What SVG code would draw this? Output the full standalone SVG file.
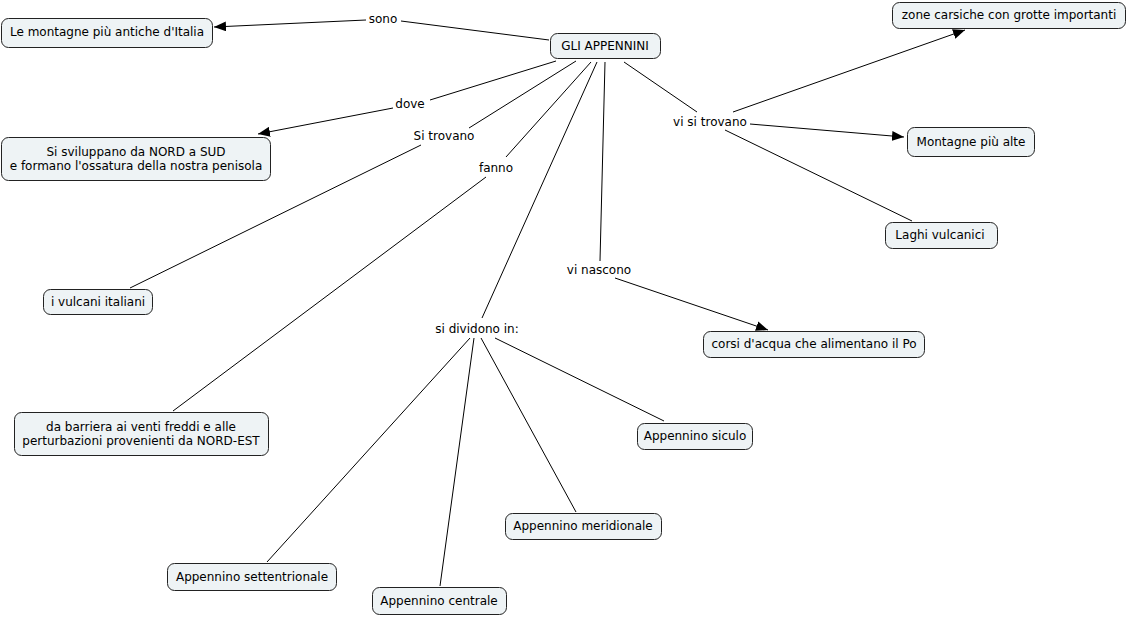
<svg xmlns="http://www.w3.org/2000/svg" width="1128" height="617" viewBox="0 0 1128 617">
<defs>
<marker id="arr" viewBox="0 0 12 10" refX="12" refY="5" markerWidth="12" markerHeight="10" markerUnits="userSpaceOnUse" orient="auto">
<path d="M0,0 L12,5 L0,10 Z" fill="#000"/>
</marker>
</defs>
<style>
.n rect{fill:#eef3f5;stroke:#222;stroke-width:1}
text{font-family:"DejaVu Sans",Verdana,sans-serif;font-size:12px;fill:#000;text-anchor:middle}
.c line{stroke:#000;stroke-width:1;fill:none}
.a{marker-end:url(#arr)}
</style>
<rect width="1128" height="617" fill="#fff"/>
<g id="connectors" class="c">
<line x1="549" y1="40" x2="401" y2="21"/>
<line class="a" x1="366" y1="20" x2="214" y2="27"/>
<line x1="556" y1="61" x2="430" y2="100"/>
<line class="a" x1="393" y1="108" x2="258" y2="134"/>
<line x1="576" y1="61" x2="469" y2="128"/>
<line x1="421" y1="145" x2="130" y2="288"/>
<line x1="591" y1="62" x2="506" y2="157"/>
<line x1="486" y1="177" x2="173" y2="411"/>
<line x1="597" y1="62" x2="482" y2="318"/>
<line x1="605" y1="62" x2="600" y2="261"/>
<line x1="624" y1="62" x2="697" y2="112"/>
<line class="a" x1="733" y1="112" x2="965" y2="30"/>
<line class="a" x1="750" y1="124" x2="904" y2="137"/>
<line x1="725" y1="130" x2="912" y2="221"/>
<line class="a" x1="615" y1="278" x2="768" y2="330"/>
<line x1="470" y1="338" x2="267" y2="562"/>
<line x1="474" y1="338" x2="440" y2="586"/>
<line x1="481" y1="338" x2="576" y2="512"/>
<line x1="495" y1="338" x2="664" y2="421"/>
</g>
<g id="labels">
<text x="383" y="23">sono</text>
<text x="410" y="108">dove</text>
<text x="444" y="140">Si trovano</text>
<text x="496" y="172">fanno</text>
<text x="710" y="126">vi si trovano</text>
<text x="599" y="274">vi nascono</text>
<text x="477" y="333">si dividono in:</text>
</g>
<g id="n-antiche" class="n"><rect x="1.5" y="18.5" width="211" height="29" rx="7"/><text x="107" y="36">Le montagne più antiche d'Italia</text></g>
<g id="n-appennini" class="n"><rect x="550.5" y="33.5" width="110" height="25" rx="7"/><text x="605" y="50">GLI APPENNINI</text></g>
<g id="n-sviluppano" class="n"><rect x="1.5" y="137.5" width="269" height="43" rx="7"/><text x="136" y="156">Si sviluppano da NORD a SUD</text><text x="136" y="170">e formano l'ossatura della nostra penisola</text></g>
<g id="n-vulcani" class="n"><rect x="43.5" y="289.5" width="109" height="25" rx="7"/><text x="98" y="306">i vulcani italiani</text></g>
<g id="n-barriera" class="n"><rect x="14.5" y="412.5" width="254" height="43" rx="7"/><text x="141" y="431">da barriera ai venti freddi e alle</text><text x="141" y="445">perturbazioni provenienti da NORD-EST</text></g>
<g id="n-carsiche" class="n"><rect x="892.5" y="2.5" width="233" height="26" rx="7"/><text x="1009" y="19">zone carsiche con grotte importanti</text></g>
<g id="n-alte" class="n"><rect x="907.5" y="127.5" width="127" height="29" rx="7"/><text x="971" y="146">Montagne più alte</text></g>
<g id="n-laghi" class="n"><rect x="885.5" y="222.5" width="112" height="26" rx="7"/><text x="940" y="239">Laghi vulcanici</text></g>
<g id="n-corsi" class="n"><rect x="703.5" y="331.5" width="221" height="26" rx="7"/><text x="814" y="348">corsi d'acqua che alimentano il Po</text></g>
<g id="n-siculo" class="n"><rect x="637.5" y="423.5" width="115" height="26" rx="7"/><text x="695" y="440">Appennino siculo</text></g>
<g id="n-meridionale" class="n"><rect x="505.5" y="513.5" width="156" height="26" rx="7"/><text x="583" y="530">Appennino meridionale</text></g>
<g id="n-settentrionale" class="n"><rect x="167.5" y="563.5" width="169" height="27" rx="7"/><text x="252" y="581">Appennino settentrionale</text></g>
<g id="n-centrale" class="n"><rect x="372.5" y="587.5" width="134" height="27" rx="7"/><text x="439" y="605">Appennino centrale</text></g>
</svg>
